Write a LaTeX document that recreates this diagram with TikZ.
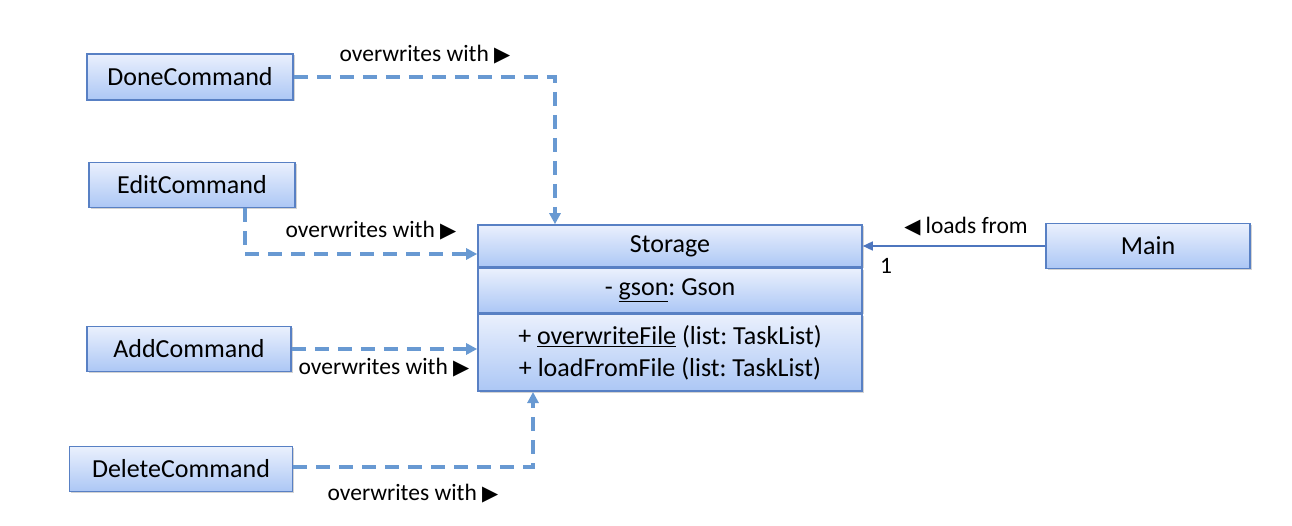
\documentclass[tikz,border=0pt]{standalone}
\usepackage{fontspec}
\setmainfont{Carlito}
\newfontfamily\symfont{DejaVu Sans}
\frenchspacing
\usetikzlibrary{positioning,arrows.meta,shadows}
\definecolor{boxline}{RGB}{88,128,196}
\definecolor{boxtop}{RGB}{234,240,253}
\definecolor{boxbot}{RGB}{172,199,245}
\definecolor{depline}{RGB}{104,153,210}
\definecolor{assocline}{RGB}{78,118,190}
\tikzset{
  umlbox/.style={draw=boxline,line width=1.6pt,top color=boxtop,bottom color=boxbot,
    drop shadow={shadow xshift=1.5pt,shadow yshift=-1.5pt,fill=black!50,opacity=0.35},
    inner sep=0pt,font=\fontsize{26}{31}\selectfont},
  dep/.style={draw=depline,line width=3.2pt,dash pattern=on 14pt off 9pt,
    -{Triangle[length=11pt,width=11pt]}},
  assoc/.style={draw=assocline,line width=1.5pt,-{Triangle[length=10pt,width=9pt]}},
  lbl/.style={font=\fontsize{23.5}{28}\selectfont,inner sep=0pt}
}
\newcommand{\rtri}{{\symfont\fontsize{21}{24}\selectfont ▶}}
\newcommand{\ltri}{{\symfont\fontsize{21}{24}\selectfont ◀}}
\begin{document}
\begin{tikzpicture}[x=1pt,y=-1pt]
\useasboundingbox (0,0) rectangle (1292,526);
% command classes
\node[umlbox,minimum width=206pt,minimum height=46pt] (done) at (190,77) {DoneCommand};
\node[umlbox,minimum width=206pt,minimum height=45pt] (edit) at (192,185) {EditCommand};
\node[umlbox,minimum width=204pt,minimum height=45pt] (add) at (189,349) {AddCommand};
\node[umlbox,minimum width=223pt,minimum height=45pt] (delete) at (181,469) {DeleteCommand};
% storage class
\node[umlbox,minimum width=384pt,minimum height=42pt] (storage) at (670,246) {Storage};
\node[umlbox,minimum width=384pt,minimum height=44pt,below=0pt of storage] (attrs)
  {- \underline{gson}: Gson};
\node[umlbox,minimum width=384pt,minimum height=77pt,below=0pt of attrs,align=center] (ops)
  {+ \underline{overwriteFile} (list: TaskList)\\[1pt] + loadFromFile (list: TaskList)};
\node[umlbox,minimum width=204pt,minimum height=45pt] (main) at (1148,246) {Main};
% dependencies
\coordinate (doneturn) at (555,77);
\coordinate (editturn) at (245,254);
\coordinate (delturn) at (533,467);
\draw[dep] (done.east) -- (doneturn) -- (doneturn |- storage.north);
\draw[dep] (edit.south -| editturn) -- (editturn) -- (editturn -| storage.west);
\draw[dep] (add.east) -- (add.east -| ops.west);
\draw[dep] (delete.east |- delturn) -- (delturn) -- (delturn |- ops.south);
\draw[assoc] (main.west) -- (storage.east);
% labels
\node[lbl] (lbldone) at (425,55) {overwrites with \rtri};
\node[lbl] (lbledit) at (371,231) {overwrites with \rtri};
\node[lbl] (lbladd) at (384,368) {overwrites with \rtri};
\node[lbl] (lbldel) at (413,494) {overwrites with \rtri};
\node[lbl] (lblload) at (966,227) {\ltri\ loads from};
\node[lbl] (mult) at (886,266) {1};
\end{tikzpicture}
\end{document}
